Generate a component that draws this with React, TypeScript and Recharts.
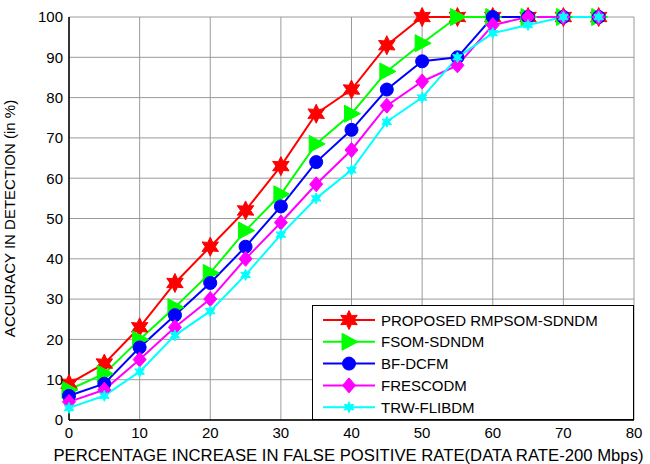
import React from 'react';
import {
  LineChart,
  Line,
  XAxis,
  YAxis,
  CartesianGrid,
  Legend,
} from 'recharts';

const rates = [0, 5, 10, 15, 20, 25, 30, 35, 40, 45, 50, 55, 60, 65, 70, 75];
const proposed = [9, 14, 23, 34, 43, 52, 63, 76, 82, 93, 100, 100, 100, 100, 100, 100];
const fsom = [7.5, 11.5, 20, 28, 36.5, 47, 56, 68.5, 76, 86.5, 93.5, 100, 100, 100, 100, 100];
const bfdcfm = [6, 9, 18, 26, 34, 43, 53, 64, 72, 82, 89, 90, 100, 100, 100, 100];
const frescodm = [4.5, 7.5, 15, 23, 30, 40, 49, 58.5, 67, 78, 84, 88, 98, 100, 100, 100];
const trwflibdm = [3, 6, 12, 21, 27, 36, 46, 55, 62, 74, 80, 90, 96, 98, 100, 100];

const xTicks = [0, 10, 20, 30, 40, 50, 60, 70, 80];
const yTicks = [0, 10, 20, 30, 40, 50, 60, 70, 80, 90, 100];

const data = rates.map((r, i) => ({
  rate: r,
  proposed: proposed[i],
  fsom: fsom[i],
  bfdcfm: bfdcfm[i],
  frescodm: frescodm[i],
  trw: trwflibdm[i],
}));

const FONT = '"Liberation Sans", Arial, Helvetica, sans-serif';

type Kind = 'hexagram' | 'triangle' | 'circle' | 'diamond' | 'smallstar';

const starPoints = (cx: number, cy: number, n: number, ro: number, ri: number) => {
  const pts: string[] = [];
  for (let i = 0; i < n * 2; i++) {
    const r = i % 2 === 0 ? ro : ri;
    const a = (Math.PI * i) / n - Math.PI / 2;
    pts.push(`${cx + r * Math.cos(a)},${cy + r * Math.sin(a)}`);
  }
  return pts.join(' ');
};

const Marker = ({ kind, cx, cy, color }: { kind: Kind; cx: number; cy: number; color: string }) => {
  if (kind === 'hexagram') {
    return <polygon points={starPoints(cx, cy, 6, 9.5, 5)} fill={color} stroke={color} strokeWidth={1} />;
  }
  if (kind === 'triangle') {
    return (
      <polygon
        points={`${cx + 9},${cy} ${cx - 7},${cy - 8.5} ${cx - 7},${cy + 8.5}`}
        fill={color}
        stroke={color}
      />
    );
  }
  if (kind === 'circle') {
    return <circle cx={cx} cy={cy} r={6.5} fill={color} stroke={color} />;
  }
  if (kind === 'diamond') {
    return (
      <polygon
        points={`${cx},${cy - 7.5} ${cx + 6.5},${cy} ${cx},${cy + 7.5} ${cx - 6.5},${cy}`}
        fill={color}
        stroke={color}
      />
    );
  }
  return <polygon points={starPoints(cx, cy, 6, 5.5, 2.8)} fill={color} stroke={color} strokeWidth={1} />;
};

const series: { key: string; name: string; color: string; kind: Kind }[] = [
  { key: 'proposed', name: 'PROPOSED RMPSOM-SDNDM', color: '#ff0000', kind: 'hexagram' },
  { key: 'fsom', name: 'FSOM-SDNDM', color: '#00ff00', kind: 'triangle' },
  { key: 'bfdcfm', name: 'BF-DCFM', color: '#0000ff', kind: 'circle' },
  { key: 'frescodm', name: 'FRESCODM', color: '#ff00ff', kind: 'diamond' },
  { key: 'trw', name: 'TRW-FLIBDM', color: '#00ffff', kind: 'smallstar' },
];

const LegendBox = () => (
  <div
    style={{
      width: 322,
      height: 115,
      background: '#fff',
      border: '1.5px solid #000',
      boxSizing: 'border-box',
    }}
  >
    <svg width={319} height={112}>
      {series.map((s, i) => {
        const y = 14 + i * 21.8;
        return (
          <g key={s.key}>
            <line x1={10} x2={62} y1={y} y2={y} stroke={s.color} strokeWidth={2} />
            <Marker kind={s.kind} cx={36} cy={y} color={s.color} />
            <text x={68} y={y + 5.5} fontSize={15} fontFamily={FONT} fill="#000">
              {s.name}
            </text>
          </g>
        );
      })}
    </svg>
  </div>
);

export default function App() {
  return (
    <div style={{ position: 'absolute', left: 0, top: 0, width: 650, height: 464, background: '#fff' }}>
      <LineChart
        width={650}
        height={464}
        data={data}
        margin={{ top: 17, right: 16, bottom: 0, left: 0 }}
      >
        <CartesianGrid stroke="#9a9a9a" strokeWidth={1} />
        <XAxis
          dataKey="rate"
          type="number"
          domain={[0, 80]}
          ticks={xTicks}
          height={44}
          tickLine={false}
          tickSize={4}
          tickMargin={3}
          axisLine={{ stroke: '#000', strokeWidth: 1.5 }}
          tick={{ fill: '#000', fontSize: 15, fontFamily: FONT }}
          label={{
            value: 'PERCENTAGE INCREASE IN FALSE POSITIVE RATE(DATA RATE-200 Mbps)',
            position: 'insideBottom',
            offset: 3,
            dx: -3,
            fill: '#000',
            fontSize: 16.7,
            fontFamily: FONT,
          }}
        />
        <XAxis
          xAxisId="top"
          dataKey="rate"
          type="number"
          domain={[0, 80]}
          orientation="top"
          height={0}
          tick={false}
          tickLine={false}
          axisLine={{ stroke: '#000', strokeWidth: 1.5 }}
        />
        <YAxis
          type="number"
          domain={[0, 100]}
          ticks={yTicks}
          width={69}
          tickLine={false}
          tickSize={4}
          tickMargin={2}
          axisLine={{ stroke: '#000', strokeWidth: 1.5 }}
          tick={{ fill: '#000', fontSize: 15, fontFamily: FONT }}
          label={{
            value: 'ACCURACY IN DETECTION (in %)',
            angle: -90,
            position: 'insideLeft',
            offset: 10,
            dy: 0,
            style: { textAnchor: 'middle' },
            fill: '#000',
            fontSize: 15,
            fontFamily: FONT,
          }}
        />
        <YAxis
          yAxisId="right"
          type="number"
          domain={[0, 100]}
          orientation="right"
          width={0}
          tick={false}
          tickLine={false}
          axisLine={{ stroke: '#000', strokeWidth: 1.5 }}
        />
        {series.map((s) => (
          <Line
            key={s.key}
            dataKey={s.key}
            name={s.name}
            stroke={s.color}
            strokeWidth={2}
            isAnimationActive={false}
            dot={(p: any) => (
              <Marker key={`${s.key}-${p.index}`} kind={s.kind} cx={p.cx} cy={p.cy} color={s.color} />
            )}
            activeDot={false}
          />
        ))}
        <Legend
          layout="vertical"
          align="center"
          verticalAlign="middle"
          content={() => <LegendBox />}
          wrapperStyle={{ left: 312, top: 305, width: 322, height: 115 }}
        />
      </LineChart>
    </div>
  );
}
